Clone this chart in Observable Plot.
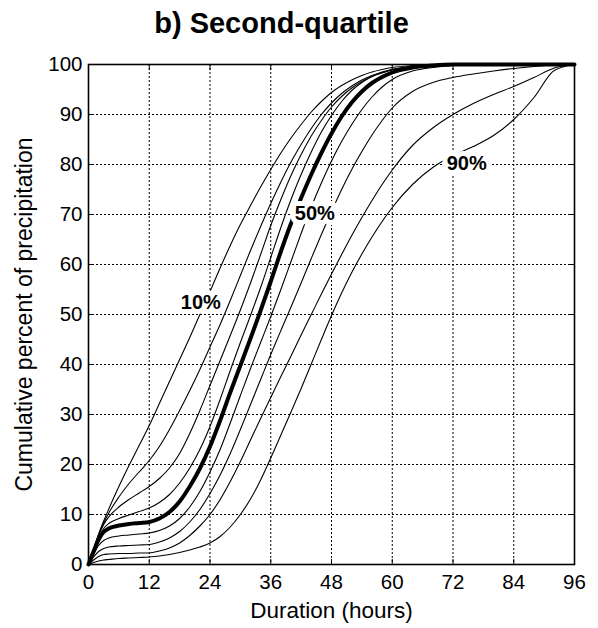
<!DOCTYPE html>
<html>
<head>
<meta charset="utf-8">
<script src="https://cdn.jsdelivr.net/npm/d3@7"></script>
<script src="https://cdn.jsdelivr.net/npm/@observablehq/plot@0.6"></script>
<style>
  body { margin: 0; background: #fff; }
  #chart svg { display: block; }
</style>
</head>
<body>
<div id="chart"></div>
<script>
// ---- data ----
const hours = [0,1,2,3,4,6,8,10,12,14,16,18,20,22,24,26,28,30,32,34,36,38,40,42,44,46,48,50,52,54,56,58,60,64,68,72,76,80,84,88,92,96];

const p10 = [0,3.1,6.1,8.7,11.1, 15.6,19.8,23.8,27.8, 32.2,36.6,41,45.4, 50,54.6,59.3,63.8, 68,71.8,75.5,79, 82.3,85.3,88,90.5, 92.6,94.4,95.8,96.9, 97.8,98.5,99,99.4, 99.8,100,100,100, 100,100,100,100,100];
const p20 = [0,3,5.9,8.3,10.3, 13.5,16.2,18.5,20.8, 23.6,27,30.8,34.8, 39,43.5,48,52.8, 57.8,62.8,67.6,72.2, 76.5,80.5,84,87.2, 90,92.3,94.2,95.7, 96.9,97.8,98.5,99, 99.6,99.9,100,100, 100,100,100,100,100];
const p30 = [0,3,5.8,8,9.5, 11.5,13,14.3,15.6, 17.2,19.3,22.2,26.2, 30.8,35.8,40.8,45.8, 50.9,56.3,62,67.8, 73,77.8,82,85.7, 88.8,91.5,93.6,95.3, 96.6,97.6,98.3,98.9, 99.6,99.9,100,100, 100,100,100,100,100];
const p40 = [0,2.8,5.5,7.2,8.2, 9.2,9.9,10.6,11.3, 12.4,14,16.3,19.3, 23,27.6,33,38.8, 44.4,49.8,55.4,61.4, 67.4,73,78,82.5, 86.5,89.8,92.6,94.8, 96.4,97.6,98.4,99, 99.6,99.9,100,100, 100,100,100,100,100];
const p50 = [0,2.6,5,6.5,7.2, 7.8,8.1,8.3,8.5, 9.2,10.5,12.6,15.6, 19.2,23.6,28.8,34.4, 39.8,45.2,50.8,56.6, 62.6,68.2,73.3,78, 82.3,86.2,89.6,92.4, 94.6,96.3,97.5,98.4, 99.4,99.8,100,100, 100,100,100,100,100];
const p60 = [0,2,3.8,4.8,5.3, 5.7,5.9,6.1,6.3, 6.8,7.7,9.2,11.5, 14.6,18.5,23,28.3, 33.8,39.2,44.4,49.6, 55,60.6,66.2,71.5, 76.3,80.7,84.6,88, 91,93.5,95.5,97, 98.7,99.4,99.8,100, 100,100,100,100,100];
const p70 = [0,1.5,2.6,3.2,3.5, 3.7,3.8,3.9,4, 4.5,5.3,6.6,8.5, 11,14.2,17.9,22.2, 27,32,37,42, 46.8,51.5,56.3,61.2, 66,70.6,75,79, 82.6,85.9,88.8,91.3, 94.6,96.4,97.4,98.1, 98.7,99.2,99.6,99.9,100];
const p80 = [0,0.9,1.6,2,2.1, 2.2,2.2,2.3,2.3, 2.7,3.3,4.3,5.8, 7.7,10,13,16.6, 20.6,24.9,29.2,33.4, 37.6,41.7,45.9,50, 54.1,58.1,62,65.8, 69.4,72.8,76,78.9, 83.8,87.3,90,92.2, 94,95.6,97.4,99.3,100];
const p90 = [0,0.4,0.7,0.9,1, 1.2,1.3,1.4,1.5, 1.7,2,2.4,2.9, 3.5,4.3,5.6,7.5, 10,13.1,16.9,21.3, 25.9,30.5,35.2,40.1, 45,49.8,54.3,58.4, 62.1,65.5,68.6,71.4, 76,79.4,81.8,83.6, 85.8,89,93.4,98.8,100];

const percentiles = ["10%","20%","30%","40%","50%","60%","70%","80%","90%"];
const seriesValues = [p10,p20,p30,p40,p50,p60,p70,p80,p90];

const xTicks = [0,12,24,36,48,60,72,84,96];
const yTicks = [0,10,20,30,40,50,60,70,80,90,100];

const labelText = ["10%","50%","90%"];
const labelHours = [22.2, 44.7, 74.7];
const labelValues = [52.3, 70.1, 80.2];

const titleText = "b) Second-quartile";
const xLabelText = "Duration (hours)";
const yLabelText = "Cumulative percent of precipitation";

// ---- build table for the library ----
const table = [];
seriesValues.forEach((vals, i) => vals.forEach((v, j) => table.push({pct: percentiles[i], h: hours[j], v})));
const thin = table.filter(d => d.pct !== "50%");
const thick = table.filter(d => d.pct === "50%");
const innerX = xTicks.slice(1, -1);
const innerY = yTicks.slice(1, -1);

const font = "'Liberation Sans', Arial, Helvetica, sans-serif";

const chart = Plot.plot({
  width: 598,
  height: 628,
  marginLeft: 88,
  marginRight: 24,
  marginTop: 64,
  marginBottom: 64,
  style: {fontFamily: font, fontSize: "20px", background: "white", color: "black", overflow: "visible"},
  x: {domain: [0, 96]},
  y: {domain: [0, 100]},
  marks: [
    Plot.gridX(innerX, {stroke: "black", strokeOpacity: 1, strokeWidth: 1, strokeDasharray: "2,2"}),
    Plot.gridY(innerY, {stroke: "black", strokeOpacity: 1, strokeWidth: 1, strokeDasharray: "2,2"}),
    Plot.line(thin, {x: "h", y: "v", z: "pct", stroke: "black", strokeWidth: 1.1, curve: "monotone-x"}),
    Plot.line(thick, {x: "h", y: "v", stroke: "black", strokeWidth: 4, curve: "monotone-x"}),
    Plot.text(labelText, {
      x: (d, i) => labelHours[i], y: (d, i) => labelValues[i], text: d => d,
      fontWeight: "bold", fontSize: 20, fill: "black", stroke: "white", strokeWidth: 10
    }),
    Plot.frame({stroke: "black", strokeWidth: 1.6}),
    Plot.axisX(xTicks, {anchor: "bottom", tickSize: 0, tickPadding: 10, fontSize: 20.5, label: null}),
    Plot.axisY(yTicks, {anchor: "left", tickSize: 0, tickPadding: 6, fontSize: 20.5, label: null}),
    Plot.axisX(xTicks, {anchor: "bottom", tickSize: -5, text: null, label: null}),
    Plot.axisX(xTicks, {anchor: "top", tickSize: -5, text: null, label: null}),
    Plot.axisY(yTicks, {anchor: "left", tickSize: -5, text: null, label: null}),
    Plot.axisY(yTicks, {anchor: "right", tickSize: -5, text: null, label: null}),
    Plot.text([xLabelText], {frameAnchor: "bottom", dy: 46, text: d => d, fontSize: 22.5, lineAnchor: "middle", textAnchor: "middle"}),
    Plot.text([yLabelText], {frameAnchor: "left", dx: -64, rotate: -90, text: d => d, fontSize: 23, lineAnchor: "middle", textAnchor: "middle"}),
    Plot.text([titleText], {frameAnchor: "top", dx: -50, dy: -41, text: d => d, fontSize: 29, fontWeight: "bold", lineAnchor: "middle", textAnchor: "middle"})
  ]
});
document.getElementById("chart").appendChild(chart);
</script>
</body>
</html>
